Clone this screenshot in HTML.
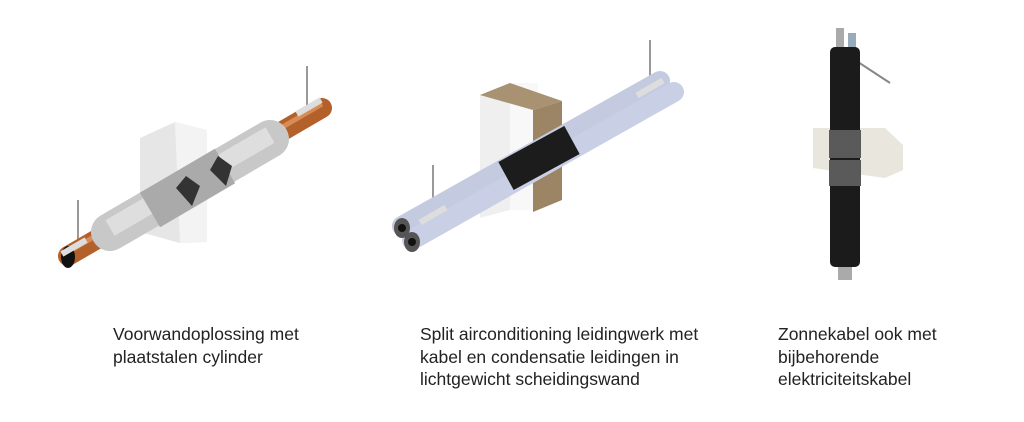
<!DOCTYPE html>
<html><head><meta charset="utf-8"><style>
body{margin:0;background:#fff;width:1024px;height:422px;overflow:hidden;position:relative;font-family:"Liberation Sans",sans-serif}
svg{position:absolute;left:0;top:0}
.t{position:absolute;font-size:17.5px;line-height:22.5px;color:#222;white-space:nowrap}
</style></head><body>
<svg width="1024" height="422">
<!-- LEFT -->
<line x1="78" y1="200" x2="78" y2="250" stroke="#999" stroke-width="2"/>
<line x1="307" y1="66" x2="307" y2="110" stroke="#999" stroke-width="2"/>
<polygon points="140,138 175,122 207,130 207,242 180,243 140,232" fill="#e6e6e6"/>
<polygon points="175,122 207,130 207,242 180,243" fill="#f3f3f3"/>
<line x1="68" y1="256" x2="322" y2="108" stroke="#b4602b" stroke-width="20" stroke-linecap="round"/>
<line x1="68" y1="252" x2="322" y2="104" stroke="#d88c55" stroke-width="5"/>
<line x1="110" y1="232" x2="270" y2="139" stroke="#c8c8c8" stroke-width="38" stroke-linecap="round"/>
<line x1="110" y1="228" x2="270" y2="135" stroke="#dedede" stroke-width="18"/>
<line x1="150" y1="210" x2="225" y2="166" stroke="#aaa" stroke-width="40"/>
<polygon points="176,188 192,206 200,186 186,176" fill="#333"/>
<polygon points="210,170 226,186 232,166 218,156" fill="#333"/>
<ellipse cx="68" cy="257" rx="7" ry="11" fill="#111"/>
<rect x="60" y="244" width="28" height="6" fill="#ddd" transform="rotate(-30 74 247)"/>
<rect x="295" y="104" width="28" height="6" fill="#ddd" transform="rotate(-30 309 107)"/>
<!-- MIDDLE -->
<line x1="433" y1="165" x2="433" y2="225" stroke="#999" stroke-width="2"/>
<line x1="650" y1="40" x2="650" y2="95" stroke="#999" stroke-width="2"/>
<polygon points="480,95 510,83 510,210 480,218" fill="#efefef"/>
<polygon points="510,83 538,83 538,210 510,210" fill="#f8f8f8"/>
<polygon points="480,95 510,83 562,101 533,110" fill="#a89272"/>
<polygon points="533,110 562,101 562,200 533,212" fill="#9c8565"/>
<line x1="402" y1="226" x2="660" y2="81" stroke="#c4cbe0" stroke-width="20" stroke-linecap="round"/>
<line x1="412" y1="240" x2="674" y2="92" stroke="#c9d0e6" stroke-width="20" stroke-linecap="round"/>
<line x1="506" y1="176" x2="572" y2="140" stroke="#1c1c1c" stroke-width="32"/>
<ellipse cx="402" cy="228" rx="8" ry="10" fill="#555"/><circle cx="402" cy="228" r="4" fill="#111"/>
<ellipse cx="412" cy="242" rx="8" ry="10" fill="#555"/><circle cx="412" cy="242" r="4" fill="#111"/>
<rect x="418" y="212" width="30" height="6" fill="#ddd" transform="rotate(-30 433 215)"/>
<rect x="635" y="85" width="30" height="6" fill="#ddd" transform="rotate(-30 650 88)"/>
<!-- RIGHT -->
<line x1="858" y1="62" x2="890" y2="83" stroke="#888" stroke-width="2"/>
<rect x="836" y="28" width="8" height="30" fill="#aaa"/>
<rect x="848" y="33" width="8" height="25" fill="#9ab"/>
<rect x="838" y="260" width="14" height="20" fill="#aaa"/>
<polygon points="813,128 885,128 903,145 903,170 885,178 813,168" fill="#e9e6dd"/>
<rect x="830" y="47" width="30" height="220" rx="5" fill="#1b1b1b"/>
<rect x="829" y="130" width="32" height="28" fill="#5a5a5a"/>
<rect x="829" y="160" width="32" height="26" fill="#5a5a5a"/>
</svg>
<div class="t" style="left:113px;top:323px">Voorwandoplossing met<br>plaatstalen cylinder</div>
<div class="t" style="left:420px;top:323px">Split airconditioning leidingwerk met<br>kabel en condensatie leidingen in<br>lichtgewicht scheidingswand</div>
<div class="t" style="left:778px;top:323px">Zonnekabel ook met<br>bijbehorende<br>elektriciteitskabel</div>
</body></html>
